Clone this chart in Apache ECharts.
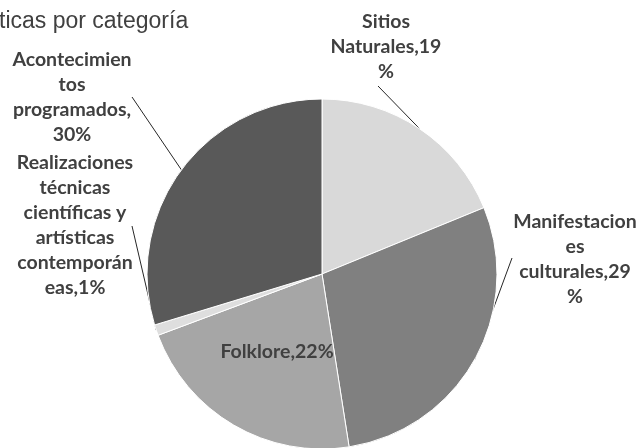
<!DOCTYPE html>
<html>
<head>
<meta charset="utf-8">
<script src="https://cdn.jsdelivr.net/npm/echarts@6/dist/echarts.min.js"></script>
<style>
  html, body { margin: 0; padding: 0; background: #fff; }
  #chart { width: 639px; height: 448px; }
</style>
</head>
<body>
<div id="chart"></div>
<script>
// categorías (en el sentido de las agujas del reloj, desde arriba)
const categories = [
  'Sitios Naturales',
  'Manifestaciones culturales',
  'Folklore',
  'Realizaciones técnicas científicas y artísticas contemporáneas',
  'Acontecimientos programados'
]
const values = [19, 29, 22, 1, 30]
// cortes de línea como en el original, {v} = valor
const labelTemplates = [
  'Sitios\nNaturales,{v}\n%',
  'Manifestacion\nes\nculturales,{v}\n%',
  'Folklore,{v}%',
  'Realizaciones\ntécnicas\ncientíficas y\nartísticas\ncontemporán\neas,{v}%',
  'Acontecimien\ntos\nprogramados,\n{v}%'
]

const colors = ['#d9d9d9', '#808080', '#a6a6a6', '#dedede', '#595959']
// centro de cada bloque de etiqueta y extremo de su línea guía
const labelSpots = [[386, 47], [575, 259], [277, 352], [75, 225], [72, 97]]
const lineEnds = [[378, 86], [512, 258], null, [132, 226], [132, 97]]

const chart = echarts.init(document.getElementById('chart'))

chart.setOption({
  animation: false,
  title: {
    text: 'ticas por categoría',
    left: -1,
    top: 10,
    padding: 0,
    textStyle: { fontFamily: 'Liberation Sans', fontSize: 23, fontWeight: 'normal', color: '#404040' }
  },
  series: [{
    type: 'pie',
    center: [322, 274],
    radius: 175,
    startAngle: 90,
    clockwise: true,
    avoidLabelOverlap: false,
    itemStyle: { borderColor: '#fff', borderWidth: 1 },
    label: {
      show: true,
      fontFamily: 'Lato',
      fontWeight: 'bold',
      fontSize: 19.5,
      lineHeight: 25,
      color: '#404040',
      align: 'center',
      formatter: p => labelTemplates[p.dataIndex].replace('{v}', p.value)
    },
    labelLine: { show: true, length: 10, length2: 0, lineStyle: { color: '#262626', width: 1 } },
    labelLayout: p => {
      const i = p.dataIndex
      const out = {
        x: labelSpots[i][0],
        y: labelSpots[i][1],
        align: 'center',
        verticalAlign: 'middle'
      }
      if (lineEnds[i] && p.labelLinePoints) {
        out.labelLinePoints = [p.labelLinePoints[0], lineEnds[i]]
      }
      return out
    },
    data: categories.map((name, i) => ({
      name,
      value: values[i],
      itemStyle: { color: colors[i] },
      labelLine: { show: i !== 2 }
    }))
  }]
})
</script>
</body>
</html>
